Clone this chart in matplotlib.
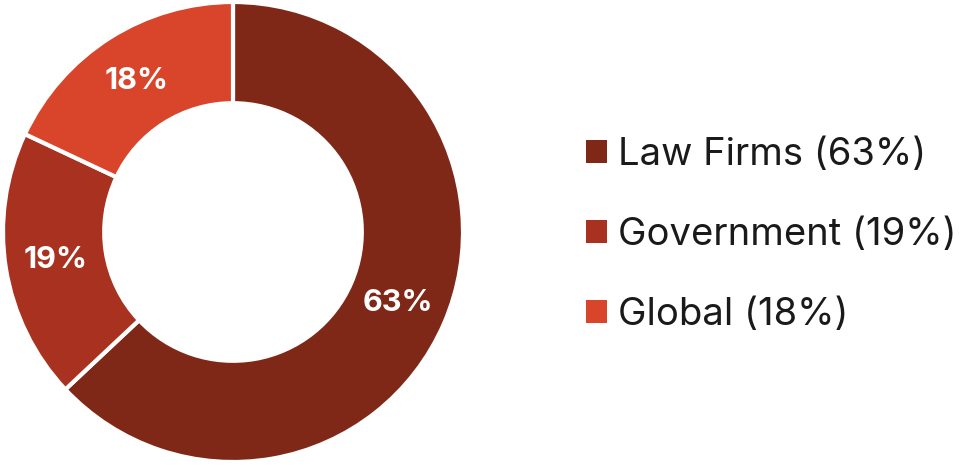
import matplotlib.pyplot as plt
from matplotlib.patches import Patch

categories = ["Law Firms", "Government", "Global"]
shares = [63, 19, 18]
colors = ["#7f2818", "#a8321f", "#d8452a"]

fig = plt.figure(figsize=(9.64, 4.65), dpi=100)
ax = fig.add_axes([3 / 964, 3 / 465, 460 / 964, 460 / 465])

wedges, texts = ax.pie(
    shares,
    colors=colors,
    startangle=90,
    counterclock=False,
    labels=[f"{s}%" for s in shares],
    labeldistance=0.78,
    wedgeprops=dict(width=0.44, edgecolor="white", linewidth=3),
    textprops=dict(color="white", fontsize=22, fontweight="bold", family="Inter"),
)
for t in texts:
    t.set_ha("center")
    t.set_va("center")
ax.set_aspect("equal")
ax.set_xlim(-1, 1)
ax.set_ylim(-1, 1)

handles = [Patch(facecolor=c, edgecolor="none") for c in colors]
labels = [f"{c} ({s}%)" for c, s in zip(categories, shares)]
fig.legend(
    handles, labels,
    loc="center left",
    bbox_to_anchor=(586 / 964, 0.495),
    frameon=False,
    borderaxespad=0,
    borderpad=0,
    prop=dict(family="Inter", size=27.5),
    handlelength=0.55,
    handleheight=0.55,
    handletextpad=0.3,
    labelspacing=1.15,
    labelcolor="#1a1a1a",
)

fig.savefig("out.png", dpi=100)
